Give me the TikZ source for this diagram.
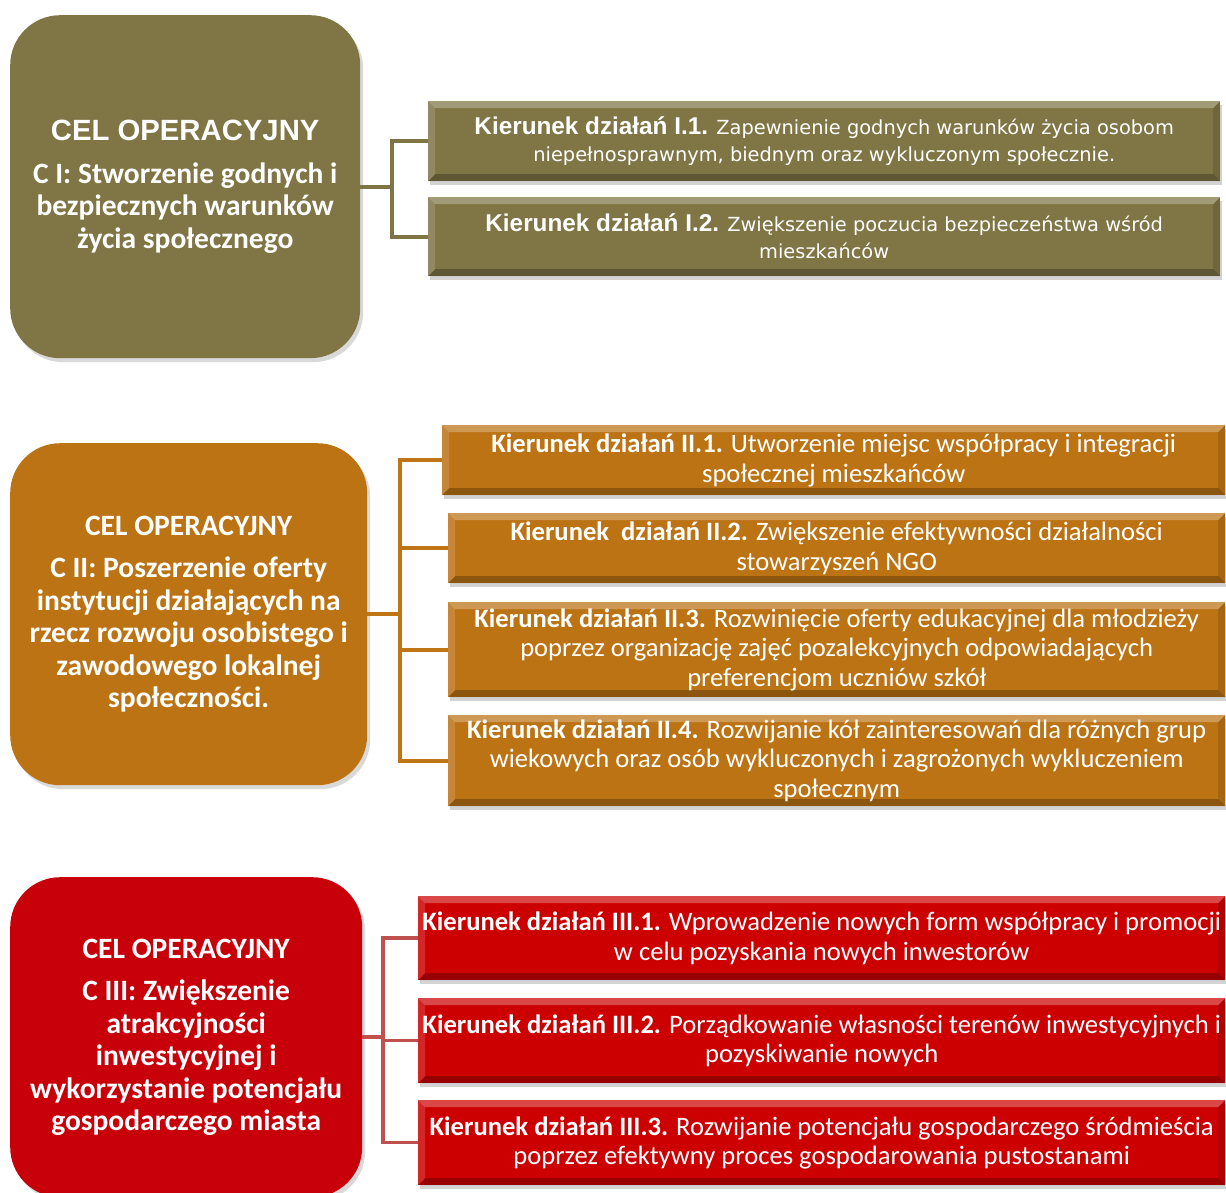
\documentclass[tikz,border=0pt]{standalone}
\usepackage{fontspec}
\setmainfont{Carlito}
\newfontfamily\arialf{Liberation Sans}
\newfontfamily\verdf{DejaVu Sans}
\usetikzlibrary{calc,shadows}
\definecolor{colI}{HTML}{7F7545}
\definecolor{colII}{HTML}{BC7314}
\definecolor{colIII}{HTML}{C8000A}
\definecolor{kolIII}{HTML}{CC0000}
\definecolor{linI}{HTML}{7F7443}
\definecolor{linII}{HTML}{BF7415}
\definecolor{linIII}{HTML}{C0504D}
\tikzset{
 bigbox/.style={rounded corners=50pt, anchor=north west, inner sep=0pt, text=white, align=center,
   font=\bfseries\fontsize{29.5}{32.5}\selectfont,
   drop shadow={shadow xshift=3pt,shadow yshift=-4pt,opacity=.3}},
 kbox/.style={anchor=north west, inner sep=0pt, text=white, align=center,
   drop shadow={shadow xshift=2pt,shadow yshift=-4pt,opacity=.35},
   path picture={
     \fill[white,opacity=.28] (path picture bounding box.north west) -- (path picture bounding box.north east) -- ([xshift=-7pt,yshift=-7pt]path picture bounding box.north east) -- ([xshift=7pt,yshift=-7pt]path picture bounding box.north west) -- cycle;
     \fill[white,opacity=.15] (path picture bounding box.north west) -- ([xshift=7pt,yshift=-7pt]path picture bounding box.north west) -- ([xshift=7pt,yshift=7pt]path picture bounding box.south west) -- (path picture bounding box.south west) -- cycle;
     \fill[black,opacity=.25] (path picture bounding box.south west) -- ([xshift=7pt,yshift=7pt]path picture bounding box.south west) -- ([xshift=-7pt,yshift=7pt]path picture bounding box.south east) -- (path picture bounding box.south east) -- cycle;
     \fill[black,opacity=.12] (path picture bounding box.north east) -- ([xshift=-7pt,yshift=-7pt]path picture bounding box.north east) -- ([xshift=-7pt,yshift=7pt]path picture bounding box.south east) -- (path picture bounding box.south east) -- cycle;
   }},
 kI/.style={kbox, fill=colI, font=\verdf\fontsize{19.4}{27}\selectfont},
 kII/.style={kbox, fill=colII, font=\fontsize{26.6}{29.5}\selectfont},
 kIII/.style={kbox, fill=kolIII, font=\fontsize{26.6}{29.5}\selectfont},
 conI/.style={draw=linI, line width=4pt},
 conII/.style={draw=linII, line width=4pt},
 conIII/.style={draw=linIII, line width=3.5pt},
}
\newcommand{\kbI}[1]{{\arialf\bfseries\fontsize{24.3}{27}\selectfont #1}}
\begin{document}
\begin{tikzpicture}[x=1pt,y=-1pt]
\useasboundingbox (0,0) rectangle (1226,1193);
\clip (0,0) rectangle (1226,1193);

% ---------- Section I ----------
\node[bigbox, fill=colI, minimum width=350pt, minimum height=343pt] (c1) at (10,15)
 {{\arialf\fontsize{29.3}{32}\selectfont CEL OPERACYJNY}\\[10pt]
  C I: Stworzenie godnych i\\bezpiecznych warunków\\życia społecznego};
\node[kI, minimum width=792pt, minimum height=80pt] (k11) at (428,101)
 {\kbI{Kierunek działań I.1.} Zapewnienie godnych warunków życia osobom\\niepełnosprawnym, biednym oraz wykluczonym społecznie.};
\node[kI, minimum width=792pt, minimum height=79pt] (k12) at (428,197)
 {\kbI{Kierunek działań I.2.} Zwiększenie poczucia bezpieczeństwa wśród\\mieszkańców};
\coordinate (jI) at (392,0);
\draw[conI] (c1.east) -- (c1.east -| jI);
\draw[conI] (k11.west) -| (k12.west -| jI) -- (k12.west);

% ---------- Section II ----------
\node[bigbox, fill=colII, minimum width=357pt, minimum height=342pt] (c2) at (10,443)
 {{\fontsize{29.5}{30}\selectfont CEL OPERACYJNY}\\[10pt]
  C II: Poszerzenie oferty\\instytucji działających na\\rzecz rozwoju osobistego i\\zawodowego lokalnej\\społeczności.};
\node[kII, minimum width=783pt, minimum height=70pt] (k21) at (442,425)
 {\textbf{Kierunek działań II.1.} Utworzenie miejsc współpracy i integracji\\społecznej mieszkańców};
\node[kII, minimum width=777pt, minimum height=70pt] (k22) at (448,513)
 {\textbf{Kierunek\ \ działań II.2.} Zwiększenie efektywności działalności\\stowarzyszeń NGO};
\node[kII, minimum width=777pt, minimum height=95pt] (k23) at (448,602)
 {\textbf{Kierunek działań II.3.} Rozwinięcie oferty edukacyjnej dla młodzieży\\poprzez organizację zajęć pozalekcyjnych odpowiadających\\preferencjom uczniów szkół};
\node[kII, minimum width=777pt, minimum height=91pt] (k24) at (448,715)
 {\textbf{Kierunek działań II.4.} Rozwijanie kół zainteresowań dla różnych grup\\wiekowych oraz osób wykluczonych i zagrożonych wykluczeniem\\społecznym};
\coordinate (jII) at (400,0);
\draw[conII] (c2.east) -- (c2.east -| jII);
\draw[conII] (k21.west) -| (k24.west -| jII) -- (k24.west);
\draw[conII] (k22.west) -- (k22.west -| jII);
\draw[conII] (k23.west) -- (k23.west -| jII);

% ---------- Section III ----------
\node[bigbox, fill=colIII, minimum width=352pt, minimum height=320pt] (c3) at (10,877)
 {{\fontsize{29.5}{30}\selectfont CEL OPERACYJNY}\\[10pt]
  C III: Zwiększenie\\atrakcyjności\\inwestycyjnej i\\wykorzystanie potencjału\\gospodarczego miasta};
\node[kIII, minimum width=807pt, minimum height=84pt] (k31) at (418,896)
 {\textbf{Kierunek działań III.1.} Wprowadzenie nowych form współpracy i promocji\\w celu pozyskania nowych inwestorów};
\node[kIII, minimum width=807pt, minimum height=85pt] (k32) at (418,998)
 {\textbf{Kierunek działań III.2.} Porządkowanie własności terenów inwestycyjnych i\\pozyskiwanie nowych};
\node[kIII, minimum width=807pt, minimum height=85pt] (k33) at (418,1100)
 {\textbf{Kierunek działań III.3.} Rozwijanie potencjału gospodarczego śródmieścia\\poprzez efektywny proces gospodarowania pustostanami};
\coordinate (jIII) at (383,0);
\draw[conIII] (c3.east) -- (c3.east -| jIII);
\draw[conIII] (k31.west) -| (k33.west -| jIII) -- (k33.west);
\draw[conIII] (k32.west) -- (k32.west -| jIII);
\end{tikzpicture}
\end{document}
